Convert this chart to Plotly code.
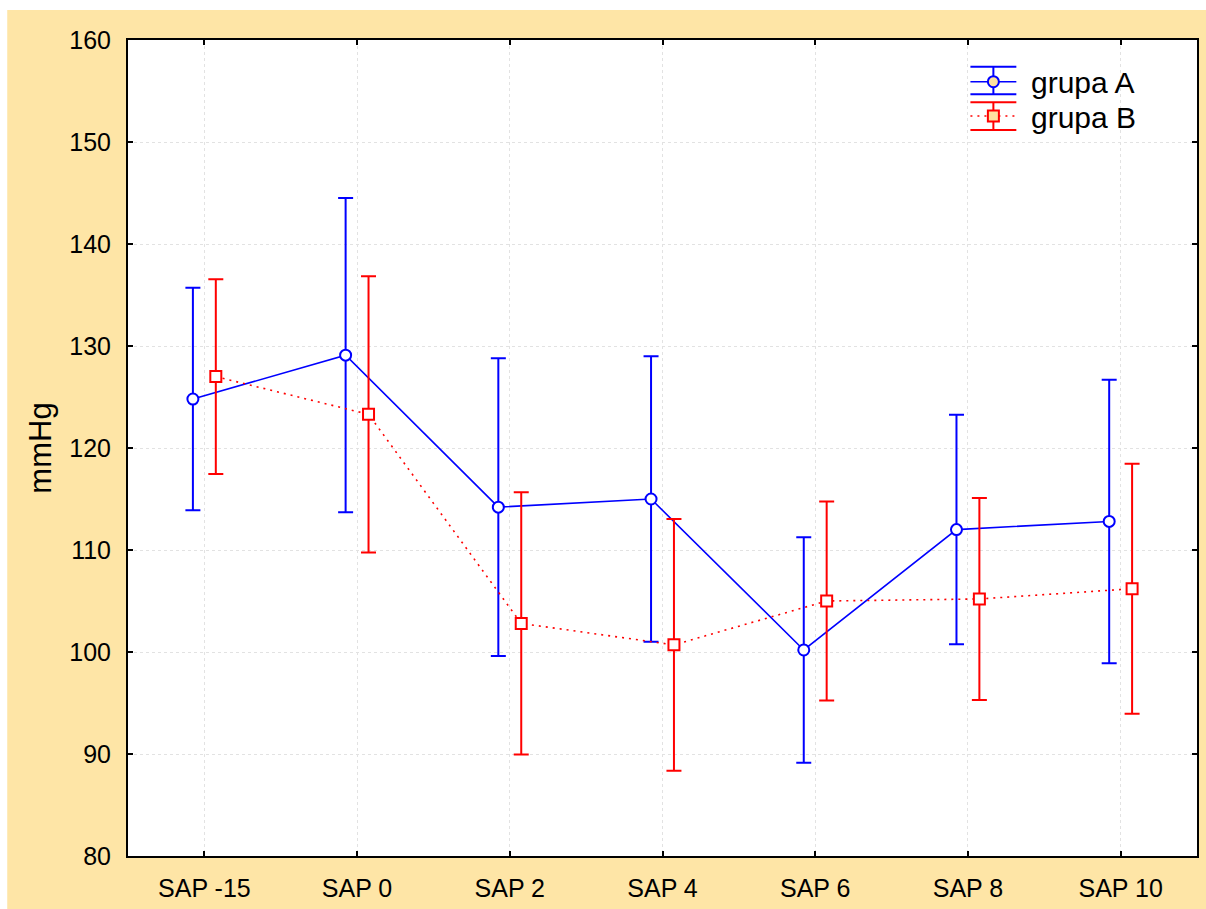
import numpy as np
import plotly.graph_objects as go

# Blood pressure (mmHg) over time points, mean with error bars, two groups
categories = ["SAP -15", "SAP 0", "SAP 2", "SAP 4", "SAP 6", "SAP 8", "SAP 10"]
mean_a = [124.8, 129.1, 114.2, 115.0, 100.2, 112.0, 112.8]
err_a = [10.9, 15.4, 14.6, 14.0, 11.05, 11.25, 13.9]
mean_b = [127.0, 123.3, 102.8, 100.7, 105.0, 105.2, 106.2]
err_b = [9.55, 13.55, 12.85, 12.35, 9.75, 9.9, 12.25]
y_ticks = [80, 90, 100, 110, 120, 130, 140, 150, 160]

BLUE = "#0000ff"
RED = "#ff0000"
BG = "#fee5a6"
FILL = "#ffe1a0"
FONT = "Liberation Sans, Arial, sans-serif"

W, H = 1206, 909
L, R, T, B = 128, 7, 40, 53

pos = np.arange(len(categories))
shift = 0.075

fig = go.Figure()

fig.add_trace(go.Scatter(
    x=pos - shift, y=mean_a, mode="lines+markers", name="grupa A",
    line=dict(color=BLUE, width=1.6),
    marker=dict(symbol="circle", size=11, color="white",
                line=dict(color=BLUE, width=2)),
    error_y=dict(type="data", array=err_a, color=BLUE, thickness=2, width=7.5),
    showlegend=False,
))
fig.add_trace(go.Scatter(
    x=pos + shift, y=mean_b, mode="lines+markers", name="grupa B",
    line=dict(color=RED, width=1.6, dash="2px,5px"),
    marker=dict(symbol="square", size=11, color="white",
                line=dict(color=RED, width=2)),
    error_y=dict(type="data", array=err_b, color=RED, thickness=2, width=7.5),
    showlegend=False,
))

# Hand-built legend in a pixel frame overlaying the plot area
lx0, lx1, lxc = 972, 1018, 995
legend_rows = [
    dict(name="grupa A", color=BLUE, symbol="circle", top=66.7, mid=81.7, bot=94.3, dash="solid"),
    dict(name="grupa B", color=RED, symbol="square", top=102.3, mid=116.0, bot=130.0, dash="dot"),
]
shapes = []
annotations = []
for row in legend_rows:
    for yy in (row["top"], row["bot"]):
        shapes.append(dict(type="line", xref="x2", yref="y2", x0=lx0, x1=lx1, y0=yy, y1=yy,
                           line=dict(color=row["color"], width=2), layer="below"))
    shapes.append(dict(type="line", xref="x2", yref="y2", x0=lxc, x1=lxc, y0=row["top"], y1=row["bot"],
                       line=dict(color=row["color"], width=2), layer="below"))
    shapes.append(dict(type="line", xref="x2", yref="y2", x0=lx0, x1=lx1, y0=row["mid"], y1=row["mid"],
                       line=dict(color=row["color"], width=1.6,
                                 dash="solid" if row["dash"] == "solid" else "2px,5px"),
                       layer="below"))
    fig.add_trace(go.Scatter(
        x=[lxc], y=[row["mid"]], xaxis="x2", yaxis="y2", mode="markers",
        marker=dict(symbol=row["symbol"], size=11, color=FILL,
                    line=dict(color=row["color"], width=2)),
        showlegend=False, hoverinfo="skip",
    ))
    annotations.append(dict(xref="x2", yref="y2", x=1031, y=row["mid"] + 1,
                            text=row["name"], showarrow=False, xanchor="left", yanchor="middle",
                            font=dict(family=FONT, size=30, color="black")))

# White strips at the top and left edges of the page
pw, ph = W - L - R, H - T - B
def px(v):
    return (v - L) / pw
def py(v):
    return (H - B - v) / ph
shapes.append(dict(type="rect", xref="paper", yref="paper", x0=px(-2), x1=px(W + 2),
                   y0=py(10), y1=py(-2), fillcolor="white", line=dict(width=0), layer="below"))
shapes.append(dict(type="rect", xref="paper", yref="paper", x0=px(-2), x1=px(7),
                   y0=py(H + 2), y1=py(-2), fillcolor="white", line=dict(width=0), layer="below"))

axis_common = dict(
    showline=True, linecolor="black", linewidth=2, mirror="ticks",
    ticks="inside", ticklen=5, tickwidth=1.5, tickcolor="black",
    showgrid=True, gridcolor="#e2e2e2", griddash="dot", gridwidth=1,
    zeroline=False,
    tickfont=dict(family=FONT, size=25, color="black"),
)

fig.update_layout(
    width=W, height=H,
    margin=dict(l=L, r=R, t=T, b=B, pad=0),
    paper_bgcolor=BG, plot_bgcolor="white",
    xaxis=dict(range=[-0.5, len(categories) - 0.5], tickmode="array",
               tickvals=pos, ticktext=categories, ticklabelstandoff=9, **axis_common),
    yaxis=dict(range=[80, 160], tickmode="array", tickvals=y_ticks,
               ticklabelstandoff=10,
               title=dict(text="mmHg", font=dict(family=FONT, size=31, color="black"), standoff=8),
               **axis_common),
    xaxis2=dict(overlaying="x", range=[L, W - R], visible=False, fixedrange=True),
    yaxis2=dict(overlaying="y", range=[H - B, T], visible=False, fixedrange=True),
    shapes=shapes,
    annotations=annotations,
    showlegend=False,
)

fig.write_html("out.html")
